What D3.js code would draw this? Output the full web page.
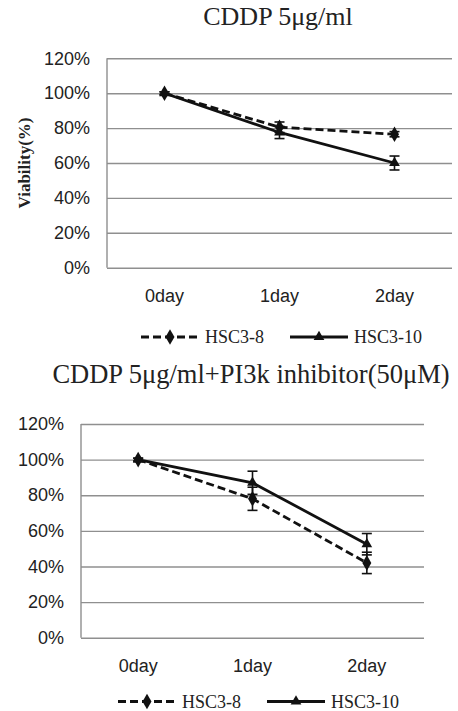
<!DOCTYPE html>
<html>
<head>
<meta charset="utf-8">
<script src="https://cdn.jsdelivr.net/npm/d3@7"></script>
<style>
    body { margin: 0; background: #fff; }
    svg { display: block; }
    .tick text { font-family: "Liberation Sans", Arial, sans-serif; font-size: 18px; fill: #222; }
    .serif { font-family: "Liberation Serif", "Times New Roman", serif; fill: #222; }
</style>
</head>
<body>
<div id="chart"></div>
<script>
var days = ['0day', '1day', '2day'];
var yTicks = [0, 0.2, 0.4, 0.6, 0.8, 1.0, 1.2];
var seriesNames = ['HSC3-8', 'HSC3-10'];

// CDDP alone
var cddpHSC38 = [1.00, 0.805, 0.765];
var cddpHSC38Err = [0.008, 0.03, 0.015];
var cddpHSC310 = [1.00, 0.775, 0.60];
var cddpHSC310Err = [0.008, 0.035, 0.04];

// CDDP + PI3k inhibitor
var piHSC38 = [1.00, 0.78, 0.42];
var piHSC38Err = [0.008, 0.065, 0.06];
var piHSC310 = [1.00, 0.87, 0.525];
var piHSC310Err = [0.008, 0.065, 0.06];

var svg = d3.select('#chart').append('svg')
    .attr('width', 458)
    .attr('height', 711);

function panel(p) {
    var x = d3.scaleBand().domain(days).range([p.left, p.right]),
        y = d3.scaleLinear().domain([0, 1.2]).range([p.bottom, p.top]),
        g = svg.append('g');

    // grid
    g.append('g')
        .attr('transform', 'translate(' + p.left + ',0)')
        .call(d3.axisLeft(y).tickValues(yTicks).tickFormat(d3.format('.0%')).tickSize(-(p.right - p.left)).tickPadding(17))
        .call(function(a) {
            a.select('.domain').remove();
            a.selectAll('.tick line').attr('stroke', '#8f8f8f').attr('stroke-width', 1.4);
        });

    g.append('line')
        .attr('x1', p.left).attr('x2', p.left)
        .attr('y1', p.top).attr('y2', p.bottom)
        .attr('stroke', '#8f8f8f').attr('stroke-width', 1.4);

    g.append('g')
        .attr('transform', 'translate(0,' + p.bottom + ')')
        .call(d3.axisBottom(x).tickSize(0).tickPadding(p.xPad))
        .call(function(a) { a.select('.domain').remove(); });

    var cx = function(d, i) { return x(days[i]) + x.bandwidth() / 2; };
    var line = d3.line().x(cx).y(function(d) { return y(d); });

    p.series.forEach(function(s) {
        g.append('path')
            .datum(s.values)
            .attr('d', line)
            .attr('fill', 'none')
            .attr('stroke', '#111')
            .attr('stroke-width', 2.8)
            .attr('stroke-dasharray', s.dash);

        var eb = g.append('g').selectAll('g')
            .data(s.values)
            .enter().append('g')
            .attr('stroke', '#111')
            .attr('stroke-width', 1.6);
        eb.append('line')
            .attr('x1', cx).attr('x2', cx)
            .attr('y1', function(d, i) { return y(d + s.err[i]); })
            .attr('y2', function(d, i) { return y(d - s.err[i]); });
        [1, -1].forEach(function(sign) {
            eb.append('line')
                .attr('x1', function(d, i) { return cx(d, i) - 5; })
                .attr('x2', function(d, i) { return cx(d, i) + 5; })
                .attr('y1', function(d, i) { return y(d + sign * s.err[i]); })
                .attr('y2', function(d, i) { return y(d + sign * s.err[i]); });
        });

        g.append('g').selectAll('path')
            .data(s.values)
            .enter().append('path')
            .attr('d', s.symbol)
            .attr('fill', '#111')
            .attr('transform', function(d, i) { return 'translate(' + cx(d, i) + ',' + y(d) + ')'; });
    });

    g.append('text')
        .attr('class', 'serif')
        .attr('x', p.titleX).attr('y', p.titleY)
        .attr('text-anchor', 'middle')
        .style('font-size', p.titleSize + 'px')
        .text(p.title);

    if (p.yLabel) {
        g.append('text')
            .attr('class', 'serif')
            .attr('transform', 'translate(30,' + ((p.top + p.bottom) / 2) + ') rotate(-90)')
            .attr('text-anchor', 'middle')
            .style('font-size', '17px')
            .style('font-weight', 'bold')
            .text(p.yLabel);
    }

    // legend
    var lg = g.append('g').attr('transform', 'translate(0,' + p.legendY + ')');
    p.series.forEach(function(s, i) {
        var lx = p.legendX[i];
        lg.append('line')
            .attr('x1', lx).attr('x2', lx + 58)
            .attr('stroke', '#111').attr('stroke-width', 3)
            .attr('stroke-dasharray', s.dash);
        lg.append('path')
            .attr('d', s.symbol)
            .attr('fill', '#111')
            .attr('transform', 'translate(' + (lx + 29) + ',0)');
        lg.append('text')
            .attr('class', 'serif')
            .attr('x', lx + 64).attr('y', 6)
            .style('font-size', '18px')
            .text(seriesNames[i]);
    });
}

var diamond = d3.symbol().type(d3.symbolDiamond).size(70)(),
    triangle = d3.symbol().type(d3.symbolTriangle).size(50)();

panel({
    left: 107, right: 452, top: 58.3, bottom: 267.7, xPad: 22,
    title: 'CDDP 5μg/ml', titleX: 278, titleY: 25, titleSize: 26,
    yLabel: 'Viability(%)',
    legendY: 337, legendX: [141, 290],
    series: [
        {values: cddpHSC38, err: cddpHSC38Err, dash: '8,4', symbol: diamond},
        {values: cddpHSC310, err: cddpHSC310Err, dash: null, symbol: triangle}
    ]
});

panel({
    left: 81, right: 424, top: 424, bottom: 637.7, xPad: 22,
    title: 'CDDP 5μg/ml+PI3k inhibitor(50μM)', titleX: 251, titleY: 383, titleSize: 26.5,
    legendY: 701.5, legendX: [118, 267],
    series: [
        {values: piHSC38, err: piHSC38Err, dash: '8,4', symbol: diamond},
        {values: piHSC310, err: piHSC310Err, dash: null, symbol: triangle}
    ]
});
</script>
</body>
</html>
